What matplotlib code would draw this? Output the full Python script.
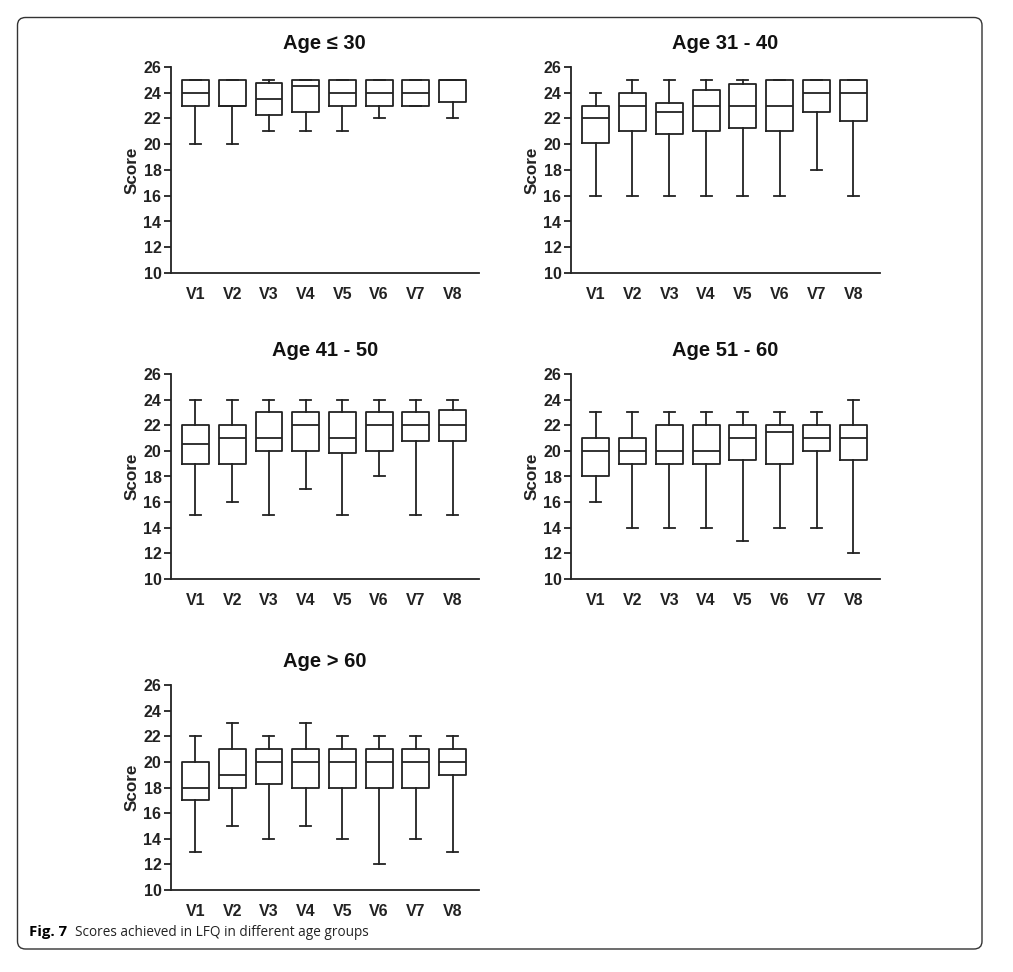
import matplotlib
matplotlib.use("Agg")
import matplotlib.pyplot as plt
from matplotlib.patches import FancyBboxPatch

categories = ["V1", "V2", "V3", "V4", "V5", "V6", "V7", "V8"]
titles = ["Age \u2264 30", "Age 31 - 40", "Age 41 - 50", "Age 51 - 60", "Age > 60"]

# each series: whisker low, Q1, median, Q3, whisker high per category
age_le30_low = [20, 20, 21, 21, 21, 22, 23, 22]
age_le30_q1 = [23, 23, 22.3, 22.5, 23, 23, 23, 23.3]
age_le30_med = [24, 23, 23.5, 24.5, 24, 24, 24, 25]
age_le30_q3 = [25, 25, 24.75, 25, 25, 25, 25, 25]
age_le30_high = [25, 25, 25, 25, 25, 25, 25, 25]

age_31_40_low = [16, 16, 16, 16, 16, 16, 18, 16]
age_31_40_q1 = [20.1, 21, 20.8, 21, 21.3, 21, 22.5, 21.8]
age_31_40_med = [22, 23, 22.5, 23, 23, 23, 24, 24]
age_31_40_q3 = [23, 24, 23.2, 24.2, 24.7, 25, 25, 25]
age_31_40_high = [24, 25, 25, 25, 25, 25, 25, 25]

age_41_50_low = [15, 16, 15, 17, 15, 18, 15, 15]
age_41_50_q1 = [19, 19, 20, 20, 19.8, 20, 20.8, 20.8]
age_41_50_med = [20.5, 21, 21, 22, 21, 22, 22, 22]
age_41_50_q3 = [22, 22, 23, 23, 23, 23, 23, 23.2]
age_41_50_high = [24, 24, 24, 24, 24, 24, 24, 24]

age_51_60_low = [16, 14, 14, 14, 13, 14, 14, 12]
age_51_60_q1 = [18, 19, 19, 19, 19.3, 19, 20, 19.3]
age_51_60_med = [20, 20, 20, 20, 21, 21.5, 21, 21]
age_51_60_q3 = [21, 21, 22, 22, 22, 22, 22, 22]
age_51_60_high = [23, 23, 23, 23, 23, 23, 23, 24]

age_gt60_low = [13, 15, 14, 15, 14, 12, 14, 13]
age_gt60_q1 = [17, 18, 18.3, 18, 18, 18, 18, 19]
age_gt60_med = [18, 19, 20, 20, 20, 20, 20, 20]
age_gt60_q3 = [20, 21, 21, 21, 21, 21, 21, 21]
age_gt60_high = [22, 23, 22, 23, 22, 22, 22, 22]

groups = [
    (age_le30_low, age_le30_q1, age_le30_med, age_le30_q3, age_le30_high),
    (age_31_40_low, age_31_40_q1, age_31_40_med, age_31_40_q3, age_31_40_high),
    (age_41_50_low, age_41_50_q1, age_41_50_med, age_41_50_q3, age_41_50_high),
    (age_51_60_low, age_51_60_q1, age_51_60_med, age_51_60_q3, age_51_60_high),
    (age_gt60_low, age_gt60_q1, age_gt60_med, age_gt60_q3, age_gt60_high),
]

yticks = [10, 12, 14, 16, 18, 20, 22, 24, 26]

W, H = 1013, 972
fig = plt.figure(figsize=(W / 100, H / 100), dpi=100)
plt.rcParams['font.family'] = ['Liberation Sans', 'DejaVu Sans']

# axes placement in pixels: (left, top, right, bottom)
rects = [
    (170.5, 67, 479, 273),
    (570.5, 67, 880, 273),
    (170.5, 374, 479, 579),
    (570.5, 374, 880, 579),
    (170.5, 685, 479, 890),
]

for (l, t, r, b), title, g in zip(rects, titles, groups):
    ax = fig.add_axes([l / W, 1 - b / H, (r - l) / W, (b - t) / H])
    lo, q1, med, q3, hi = g
    stats = []
    for i in range(len(categories)):
        stats.append(dict(whislo=lo[i], q1=q1[i], med=med[i], q3=q3[i],
                          whishi=hi[i], fliers=[], label=categories[i]))
    pos = list(range(1, len(categories) + 1))
    ax.bxp(stats, positions=pos, widths=0.73, showfliers=False,
           boxprops=dict(color="#222222", linewidth=1.3),
           whiskerprops=dict(color="#222222", linewidth=1.3),
           capprops=dict(color="#222222", linewidth=1.3),
           medianprops=dict(color="#222222", linewidth=1.3),
           capwidths=0.3)
    ax.set_xlim(0.32, 8.72)
    ax.set_ylim(10, 26)
    ax.set_yticks(yticks)
    ax.set_xticks(pos)
    ax.set_xticklabels(categories, fontsize=11.5, fontweight="bold",
                       color="#222222")
    for lab in ax.get_yticklabels():
        lab.set_fontsize(11.5)
        lab.set_fontweight("bold")
        lab.set_color("#222222")
    ax.tick_params(axis="x", length=0, pad=10)
    ax.tick_params(axis="y", length=5, width=1.3, pad=1.5, color="#222222")
    ax.spines["top"].set_visible(False)
    ax.spines["right"].set_visible(False)
    ax.spines["left"].set_linewidth(1.3)
    ax.spines["bottom"].set_linewidth(1.3)
    ax.spines["left"].set_color("#222222")
    ax.spines["bottom"].set_color("#222222")
    ax.spines["left"].set_bounds(10, 26)
    ax.set_ylabel("Score", fontsize=12.3, fontweight="bold", labelpad=3,
                  color="#222222")
    ax.set_title(title, fontsize=14.5, fontweight="bold", pad=13,
                 color="#111111")

# outer rounded frame
frame = FancyBboxPatch((17.5 / W, 1 - 949 / H), (982 - 17.5) / W, (949 - 17.5) / H,
                       boxstyle="round,pad=0,rounding_size=0.008",
                       transform=fig.transFigure, fill=False,
                       edgecolor="#333333", linewidth=1.0)
fig.patches.append(frame)

fig.text(29 / W, 1 - 932 / H, "Fig. 7", fontsize=10.8, fontweight="bold",
         family=["Open Sans", "DejaVu Sans"], va="center", ha="left")
fig.text(75 / W, 1 - 932 / H, "Scores achieved in LFQ in different age groups",
         fontsize=9.8, family=["Open Sans", "DejaVu Sans"], va="center", ha="left",
         color="#222222")

fig.savefig("out.png", dpi=100)
